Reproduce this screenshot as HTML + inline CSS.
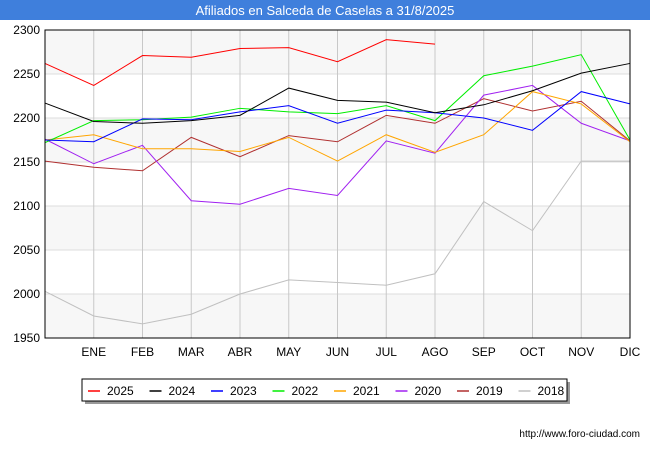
<!DOCTYPE html>
<html><head><meta charset="utf-8"><style>
body{margin:0;width:650px;height:450px;background:#fff;font-family:"Liberation Sans",sans-serif;overflow:hidden}
</style></head><body>
<svg width="650" height="450">
<rect x="0" y="0" width="650" height="20" fill="#3f7fdc"/>
<text x="325" y="15" text-anchor="middle" font-size="13" fill="#fff">Afiliados en Salceda de Caselas a 31/8/2025</text>
<g id="bands"></g><g id="grid"></g><g id="series"></g><g id="axes"></g>
<rect x="45" y="30" width="585" height="308" fill="none" stroke="#000"/>
<rect x="85" y="382" width="485" height="22" fill="#999"/>
<rect x="82" y="379" width="485" height="22" fill="#fff" stroke="#000"/>
<g id="legend"></g>
<text x="640" y="437" text-anchor="end" font-size="10" fill="#000">http://www.foro-ciudad.com</text>
</svg>
<script>
const months=["","ENE","FEB","MAR","ABR","MAY","JUN","JUL","AGO","SEP","OCT","NOV","DIC"];
const yTicks=[1950,2000,2050,2100,2150,2200,2250,2300];
const seriesNames=["2025","2024","2023","2022","2021","2020","2019","2018"];
const seriesColors=["#ff0000","#000000","#0000ff","#00ee00","#ffa500","#a020f0","#b03030","#c0c0c0"];
const s2025=[2262,2237,2271,2269,2279,2280,2264,2289,2284];
const s2024=[2217,2196,2194,2197,2203,2234,2220,2218,2206,2215,2231,2251,2262];
const s2023=[2175,2173,2199,2198,2207,2214,2194,2209,2206,2200,2186,2230,2216];
const s2022=[2172,2197,2198,2201,2211,2207,2205,2214,2197,2248,2259,2272,2175];
const s2021=[2175,2181,2165,2165,2162,2178,2151,2181,2161,2181,2230,2216,2173];
const s2020=[2176,2148,2169,2106,2102,2120,2112,2174,2160,2226,2237,2194,2174];
const s2019=[2151,2144,2140,2178,2156,2180,2173,2203,2194,2222,2208,2219,2174];
const s2018=[2003,1975,1966,1977,2000,2016,2013,2010,2023,2105,2072,2151,2151];
const allSeries=[s2025,s2024,s2023,s2022,s2021,s2020,s2019,s2018];
const NS="http://www.w3.org/2000/svg";
const X=i=>45+i*585/12, Y=v=>30+(2300-v)*308/350;
function mk(t,a,p){const e=document.createElementNS(NS,t);for(const k in a)e.setAttribute(k,a[k]);document.getElementById(p).appendChild(e);return e;}
for(let i=0;i<yTicks.length-1;i+=2){
 const r=mk("rect",{x:45,y:Y(yTicks[i+1]),width:585,height:Y(yTicks[i])-Y(yTicks[i+1]),fill:"#f7f7f7"},"bands");
 
 
}
yTicks.forEach(v=>{
 const l=mk("line",{x1:45,x2:630,y1:Y(v),y2:Y(v),stroke:"#ddd"},"grid");
 
 
 const t=mk("text",{x:40,y:Y(v)+4,"text-anchor":"end","font-size":"12"},"axes");
 t.textContent=v;
 
 
});
months.forEach((m,i)=>{
 const l=mk("line",{x1:X(i),x2:X(i),y1:30,y2:338,stroke:"#c8c8c8"},"grid");
 
 
 if(m){const t=mk("text",{x:X(i),y:356,"text-anchor":"middle","font-size":"12"},"axes");
 t.textContent=m;
 
 }
});
for(let k=allSeries.length-1;k>=0;k--){
 const p=mk("polyline",{points:allSeries[k].map((v,i)=>X(i)+","+Y(v)).join(" "),fill:"none",stroke:seriesColors[k],"stroke-width":1},"series");
 
 
}
seriesNames.forEach((n,k)=>{
 const x0=88+k*61.5;
 const l=mk("line",{x1:x0,x2:x0+12,y1:391,y2:391,stroke:seriesColors[k],"stroke-width":1.5},"legend");
 
 
 const t=mk("text",{x:x0+19,y:395,"font-size":"12"},"legend");
 t.textContent=n;
 
 
});
</script>
</body></html>
